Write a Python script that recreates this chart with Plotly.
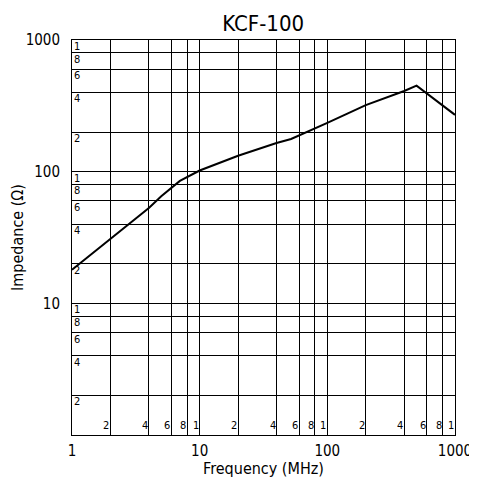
import math
import plotly.graph_objects as go

# curve
freq_mhz = [1, 2, 4, 5, 7, 10, 20, 40, 52, 100, 200, 400, 500, 1000]
impedance = [18, 31, 53, 65, 85, 102, 132, 165, 177, 235, 320, 410, 450, 270]

# grid: 1, 2, 4, 6, 8 in every decade
grid_vals = [1, 2, 4, 6, 8, 10, 20, 40, 60, 80, 100, 200, 400, 600, 800, 1000]
main_vals = [1, 10, 100, 1000]
x_main_text = ["1", "10", "100", "1000"]
y_main_text = ["", "10", "100", "1000"]
minor_text = {1: "1", 2: "2", 4: "4", 6: "6", 8: "8"}

FONT = "DejaVu Sans Condensed, Liberation Sans, sans-serif"

def fnt(size):
    return dict(size=size, color="black", family=FONT)

fig = go.Figure()
fig.add_trace(go.Scatter(x=freq_mhz, y=impedance, mode="lines",
                         line=dict(color="black", width=2), showlegend=False))

def lead(v):
    return int(round(v / 10 ** math.floor(math.log10(v) + 1e-9)))

anns = []
for v in grid_vals[1:]:
    t = minor_text[lead(v)]
    # y labels sit just under each horizontal line, at the left edge
    anns.append(dict(xref="paper", yref="y", x=0, y=math.log10(v), text=t,
                     xanchor="left", yanchor="top", xshift=0, yshift=2,
                     showarrow=False, font=fnt(11)))
    # x labels sit just left of each vertical line, at the bottom edge
    anns.append(dict(xref="x", yref="paper", x=math.log10(v), y=0, text=t,
                     xanchor="right", yanchor="bottom", xshift=1, yshift=1,
                     showarrow=False, font=fnt(11)))

axis_common = dict(type="log", range=[0, 3], showgrid=True, gridcolor="black",
                   gridwidth=1, showline=True, linecolor="black", linewidth=1,
                   mirror=True, ticks="", zeroline=False, automargin=False,
                   tickfont=fnt(15), title_font=fnt(16))

# page body adds an 8px margin, so the figure is drawn smaller to fit the window
fig.update_layout(
    width=469, height=470,
    margin=dict(l=64, r=22, t=32, b=43),
    paper_bgcolor="white", plot_bgcolor="white",
    title=dict(text="KCF-100", x=0.544, xanchor="center", y=0.968, yanchor="middle",
               font=fnt(22)),
    xaxis=dict(axis_common, tickvals=grid_vals,
               ticktext=[x_main_text[main_vals.index(v)] if v in main_vals else "" for v in grid_vals],
               title=dict(text="Frequency (MHz)", standoff=0), ticklabelstandoff=2),
    yaxis=dict(axis_common, tickvals=grid_vals,
               ticktext=[y_main_text[main_vals.index(v)] if v in main_vals else "" for v in grid_vals],
               title=dict(text="Impedance (Ω)", standoff=4), ticklabelstandoff=8),
    annotations=anns,
)

fig.write_html("out.html")
